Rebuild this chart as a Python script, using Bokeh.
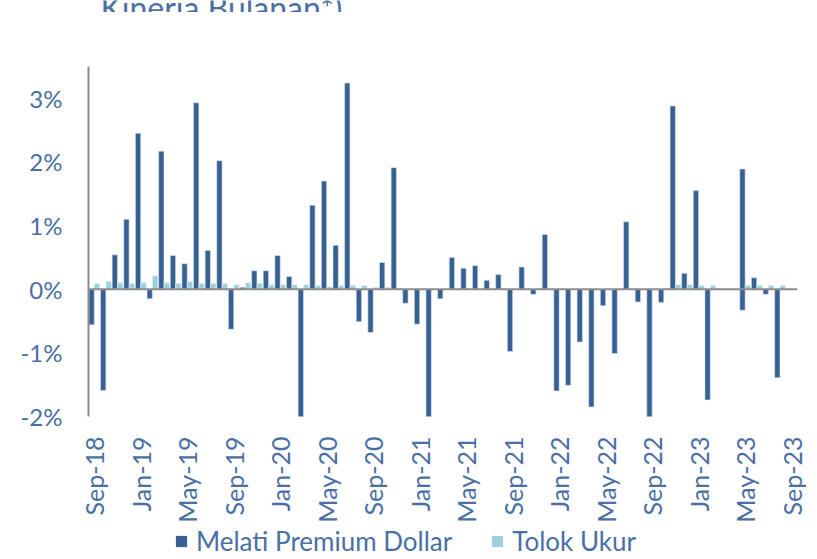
import math
from bokeh.plotting import figure
from bokeh.layouts import column
from bokeh.models import (Span, Legend, LegendItem, Label, Range1d,
                          ColumnDataSource, FixedTicker, PrintfTickFormatter)
from bokeh.transform import dodge
from bokeh.embed import file_html
from bokeh.resources import INLINE

months = [
    "Sep-18", "Oct-18", "Nov-18", "Dec-18",
    "Jan-19", "Feb-19", "Mar-19", "Apr-19", "May-19", "Jun-19", "Jul-19", "Aug-19", "Sep-19", "Oct-19", "Nov-19", "Dec-19",
    "Jan-20", "Feb-20", "Mar-20", "Apr-20", "May-20", "Jun-20", "Jul-20", "Aug-20", "Sep-20", "Oct-20", "Nov-20", "Dec-20",
    "Jan-21", "Feb-21", "Mar-21", "Apr-21", "May-21", "Jun-21", "Jul-21", "Aug-21", "Sep-21", "Oct-21", "Nov-21", "Dec-21",
    "Jan-22", "Feb-22", "Mar-22", "Apr-22", "May-22", "Jun-22", "Jul-22", "Aug-22", "Sep-22", "Oct-22", "Nov-22", "Dec-22",
    "Jan-23", "Feb-23", "Mar-23", "Apr-23", "May-23", "Jun-23", "Jul-23", "Aug-23", "Sep-23",
]

# Melati Premium Dollar monthly return (%)
melati = [
    -0.56, -1.59, 0.54, 1.10,
    2.45, -0.15, 2.17, 0.53, 0.40, 2.93, 0.61, 2.02, -0.63, 0.03, 0.29, 0.29,
    0.53, 0.20, -2.30, 1.32, 1.70, 0.69, 3.24, -0.51, -0.68, 0.42, 1.91, -0.22,
    -0.55, -2.30, -0.15, 0.50, 0.33, 0.37, 0.14, 0.23, -0.98, 0.35, -0.08, 0.86,
    -1.60, -1.51, -0.83, -1.85, -0.26, -1.01, 1.06, -0.20, -2.30, -0.21, 2.88, 0.25,
    1.55, -1.74, None, None, 1.89, 0.18, -0.08, -1.39, None,
]

# Tolok Ukur (benchmark) monthly return (%)
tolok = [
    0.09, 0.12, 0.10, 0.09,
    0.10, 0.21, 0.10, 0.09, 0.12, 0.09, 0.09, 0.09, 0.07, 0.10, 0.09, 0.07,
    0.07, 0.07, 0.07, 0.06, 0.04, 0.06, 0.06, 0.06, 0.03, 0.03, 0.01, None,
    None, None, None, None, None, None, None, None, None, None, None, None,
    None, None, None, None, None, None, None, None, None, None, 0.07, 0.07,
    0.06, 0.06, None, None, 0.06, 0.06, 0.06, 0.06, None,
]

# second (overlapping) Melati bar shown in the May-23 slot
overlap_month = ["May-23"]
overlap_value = [-0.33]

shown_labels = ["Sep-18", "Jan-19", "May-19", "Sep-19", "Jan-20", "May-20", "Sep-20",
                "Jan-21", "May-21", "Sep-21", "Jan-22", "May-22", "Sep-22", "Jan-23",
                "May-23", "Sep-23"]
y_ticks = [-2, -1, 0, 1, 2, 3]
series_names = ["Melati Premium Dollar", "Tolok Ukur"]
title_text = "Kinerja Bulanan*)"

DARK = "#386193"
LIGHT = "#9dd0dc"
TXT = "#4a6fa5"
AXIS = "#8c8c8c"
FONT = "Lato"

W = 817
TITLE_H, MAIN_H, LEG_H = 12, 513, 34

# ---------- title strip (cut off at the top, as in the reference) ----------
t = figure(width=W, height=TITLE_H, x_range=Range1d(0, 1), y_range=Range1d(0, 1),
           output_backend="svg", toolbar_location=None, x_axis_location=None,
           y_axis_location=None, min_border=0, outline_line_color=None)
t.grid.visible = False
t.add_layout(Label(x=12, y=5, x_units="screen", y_units="screen",
                   text=title_text, text_font=FONT, text_font_size="32px",
                   text_color=TXT, text_baseline="alphabetic"))

# ---------- main chart ----------
pos = {m: i for i, m in enumerate(months)}
src = ColumnDataSource(dict(idx=[pos[m] for m in months], month=months,
                            melati=melati, tolok=tolok))
src2 = ColumnDataSource(dict(idx=[pos[m] for m in overlap_month], val=overlap_value))

p = figure(x_range=Range1d(-0.5, len(months) - 0.5), y_range=Range1d(-2, 3.5),
           width=W, height=MAIN_H,
           output_backend="svg", toolbar_location=None,
           min_border_left=88, min_border_right=20, min_border_top=54,
           min_border_bottom=106, outline_line_color=None)

p.vbar(x=dodge("idx", -0.235), top="melati", width=0.46,
       source=src, fill_color=DARK, line_color="#dde4ee", line_width=0.6)
p.vbar(x=dodge("idx", -0.235), top="val", width=0.46,
       source=src2, fill_color=DARK, line_color="#dde4ee", line_width=0.6)
p.vbar(x=dodge("idx", 0.235), top="tolok", width=0.46,
       source=src, fill_color=LIGHT, line_color="#e6f2f5", line_width=0.6)

p.add_layout(Span(location=0, dimension="width", line_color=AXIS, line_width=2))

p.xgrid.visible = False
p.ygrid.visible = False

xa = p.xaxis[0]
xa.ticker = FixedTicker(ticks=[pos[m] for m in shown_labels])
xa.major_label_overrides = {pos[m]: m for m in shown_labels}
xa.major_label_orientation = math.pi / 2
xa.axis_line_color = None
xa.major_tick_line_color = None
xa.minor_tick_line_color = None
xa.major_label_standoff = 14
xa.major_label_text_font = FONT
xa.major_label_text_font_size = "25px"
xa.major_label_text_color = TXT

ya = p.yaxis[0]
ya.ticker = FixedTicker(ticks=y_ticks)
ya.formatter = PrintfTickFormatter(format="%d%%")
ya.axis_line_color = AXIS
ya.axis_line_width = 2
ya.major_tick_line_color = None
ya.minor_tick_line_color = None
ya.major_label_standoff = 20
ya.major_label_text_font = FONT
ya.major_label_text_font_size = "24px"
ya.major_label_text_color = TXT

# ---------- legend strip ----------
lg = figure(width=W, height=LEG_H, x_range=Range1d(0, 1), y_range=Range1d(0, 1),
            output_backend="svg", toolbar_location=None, x_axis_location=None,
            y_axis_location=None, min_border=0, outline_line_color=None)
lg.grid.visible = False
# legend swatches only (hidden area renderers, drawn by the legend at full strength)
k1 = lg.varea(x=[0, 1], y1=[0, 0], y2=[1, 1], fill_color=DARK, visible=False)
k2 = lg.varea(x=[0, 1], y1=[0, 0], y2=[1, 1], fill_color=LIGHT, visible=False)
legend = Legend(items=[LegendItem(label=series_names[0], renderers=[k1]),
                       LegendItem(label=series_names[1], renderers=[k2])],
                location=(86, 2), orientation="horizontal", padding=0, margin=0,
                spacing=38, glyph_width=14, glyph_height=14, label_standoff=8,
                border_line_color=None, background_fill_alpha=0,
                inactive_fill_alpha=0,
                label_text_font=FONT, label_text_font_size="26px",
                label_text_color=TXT)
lg.add_layout(legend)

layout = column(t, p, lg, spacing=0)
open("out.html", "w").write(file_html(layout, INLINE))
